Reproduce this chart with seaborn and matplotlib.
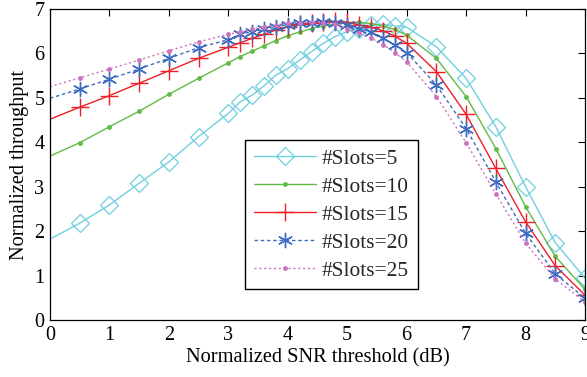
import numpy as np
import pandas as pd
import matplotlib
matplotlib.use("Agg")
import matplotlib.pyplot as plt
from matplotlib.lines import Line2D
import seaborn as sns

x = [0, 0.5, 1, 1.5, 2, 2.5, 3, 3.2, 3.4, 3.6, 3.8, 4, 4.2, 4.4, 4.6, 4.8,
     5, 5.2, 5.4, 5.6, 5.8, 6, 6.5, 7, 7.5, 8, 8.5, 9]

slots5 = [1.82, 2.18, 2.59, 3.08, 3.56, 4.13, 4.65, 4.91, 5.06, 5.27, 5.51, 5.66, 5.85, 6.04,
          6.23, 6.38, 6.49, 6.56, 6.64, 6.66, 6.62, 6.59, 6.15, 5.44, 4.35, 3.00, 1.74, 0.94]
slots10 = [3.69, 3.99, 4.35, 4.70, 5.08, 5.44, 5.79, 5.93, 6.05, 6.17, 6.29, 6.40, 6.48, 6.56,
           6.62, 6.66, 6.69, 6.70, 6.67, 6.62, 6.54, 6.41, 5.89, 5.03, 3.86, 2.55, 1.43, 0.69]
slots15 = [4.52, 4.79, 5.05, 5.33, 5.61, 5.89, 6.14, 6.24, 6.34, 6.43, 6.53, 6.60, 6.66, 6.69,
           6.71, 6.72, 6.70, 6.64, 6.59, 6.51, 6.39, 6.23, 5.59, 4.63, 3.41, 2.21, 1.22, 0.56]
slots20 = [4.99, 5.20, 5.42, 5.65, 5.89, 6.13, 6.31, 6.43, 6.49, 6.54, 6.60, 6.65, 6.68, 6.69,
           6.70, 6.69, 6.64, 6.56, 6.48, 6.34, 6.19, 6.02, 5.29, 4.31, 3.11, 1.95, 1.04, 0.49]
slots25 = [5.25, 5.45, 5.65, 5.85, 6.06, 6.26, 6.43, 6.49, 6.55, 6.60, 6.64, 6.68, 6.69, 6.70,
           6.69, 6.67, 6.55, 6.45, 6.35, 6.20, 6.02, 5.81, 5.03, 3.99, 2.84, 1.73, 0.92, 0.41]

labels = ["#Slots=5", "#Slots=10", "#Slots=15", "#Slots=20", "#Slots=25"]
series = [slots5, slots10, slots15, slots20, slots25]

xticks = [0, 1, 2, 3, 4, 5, 6, 7, 8, 9]
yticks = [0, 1, 2, 3, 4, 5, 6, 7]

rows = []
for lab, ys in zip(labels, series):
    for xv, yv in zip(x, ys):
        rows.append({"snr": xv, "thr": yv, "series": lab})
df = pd.DataFrame(rows)

sns.set_theme(style="white")
plt.rcParams['font.family'] = ['Liberation Serif', 'DejaVu Serif']

styles = {
    "#Slots=5": dict(color="#6fcfe0", marker="D", ms=9, mfc="none", mew=0.9, ls="-", lw=1.0),
    "#Slots=10": dict(color="#62bb47", marker="o", ms=3.5, mfc="#62bb47", mew=0, ls="-", lw=1.0),
    "#Slots=15": dict(color="#ee1f26", marker="+", ms=13, mfc="none", mew=1.0, ls="-", lw=1.0),
    "#Slots=20": dict(color="#3d6cc0", marker=(6, 2, 0), ms=11, mfc="none", mew=1.0, ls=(0, (2.5, 2)), lw=1.0),
    "#Slots=25": dict(color="#cc72bf", marker="o", ms=3.5, mfc="#cc72bf", mew=0, ls=(0, (1.5, 2)), lw=1.0),
}

fig = plt.figure(figsize=(5.87, 3.77), dpi=100)
ax = fig.add_axes([50/587, 57/377, 535/587, 311/377])

handles = []
for lab in labels:
    sub = df[df["series"] == lab]
    st = styles[lab]
    sns.lineplot(data=sub, x="snr", y="thr", ax=ax, color=st["color"],
                 linestyle=st["ls"], linewidth=st["lw"],
                 legend=False, sort=False)
    line = ax.lines[-1]
    line.set_marker(st["marker"])
    line.set_markersize(st["ms"])
    line.set_markeredgewidth(st["mew"])
    line.set_markeredgecolor(st["color"])
    line.set_markerfacecolor(st["mfc"])
    line.set_markevery(slice(1, None))
    handles.append(Line2D([], [], color=st["color"], linestyle=st["ls"], linewidth=st["lw"],
                          marker=st["marker"], markersize=st["ms"], markeredgewidth=st["mew"],
                          markeredgecolor=st["color"], markerfacecolor=st["mfc"]))

ax.set_xlim(0, 9)
ax.set_ylim(0, 7)
ax.set_xticks(xticks)
ax.set_yticks(yticks)
ax.set_xticklabels([str(t) for t in xticks])
ax.set_yticklabels([str(t) for t in yticks])
ax.tick_params(direction="in", length=5, width=0.8, top=True, right=True,
               labelsize=14.5, colors="#000000", pad=4)
for s in ax.spines.values():
    s.set_color("#000000")
    s.set_linewidth(0.9)
ax.set_xlabel("Normalized SNR threshold (dB)", fontsize=14.7, labelpad=3, color="#000000")
ax.set_ylabel("Normalized throughput", fontsize=14.7, labelpad=4, color="#000000")

leg = ax.legend(handles=handles, labels=labels, loc="upper left",
                bbox_to_anchor=((245-50)/535, (320-140)/311),
                fontsize=15.4, frameon=True, fancybox=False, edgecolor="#000000",
                framealpha=1, handlelength=2.9, borderpad=0.4, labelspacing=0.38,
                handletextpad=0.3, borderaxespad=0, numpoints=1)
leg.get_frame().set_linewidth(1.0)

fig.savefig("out.png", dpi=100)
